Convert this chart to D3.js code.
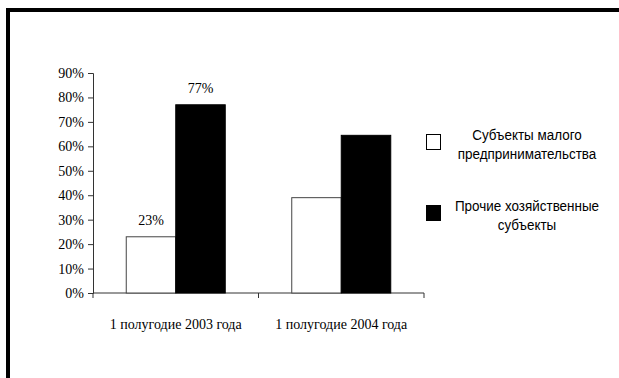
<!DOCTYPE html>
<html>
<head>
<meta charset="utf-8">
<script src="https://cdn.jsdelivr.net/npm/d3@7"></script>
<style>
  html, body { margin: 0; padding: 0; background: #fff; }
  svg { display: block; }
</style>
</head>
<body>
<svg id="chart" width="619" height="378"></svg>
<script>
// Data
const categories = ["1 полугодие 2003 года", "1 полугодие 2004 года"];
const seriesNames = [["Субъекты малого", "предпринимательства"], ["Прочие хозяйственные", "субъекты"]];
const smallBusiness = [23, 39];
const otherEntities = [77, 64.5];
const valueLabels = [["23%", null], ["77%", null]];
const yTicks = [0, 10, 20, 30, 40, 50, 60, 70, 80, 90];

const svg = d3.select("#chart");
const W = 619, H = 378;

// Frame
svg.append("path")
  .attr("d", `M8,${H + 5} L8,10 L${W + 5},10`)
  .attr("fill", "none")
  .attr("stroke", "#000")
  .attr("stroke-width", 4);

const plot = { left: 93, right: 424, top: 73, bottom: 293 };

const x = d3.scaleBand().domain(categories).range([plot.left, plot.right]);
const series = [smallBusiness, otherEntities];
const fills = ["#fff", "#000"];
const y = d3.scaleLinear().domain([0, 90]).range([plot.bottom, plot.top]);
const barW = 49.5;

// Y axis
const yAxis = svg.append("g")
  .attr("transform", `translate(${plot.left},0)`)
  .call(d3.axisLeft(y).tickValues(yTicks).tickFormat(d => d + "%").tickSize(5).tickPadding(4));
yAxis.select(".domain").attr("stroke", "#333");
yAxis.selectAll(".tick line").attr("stroke", "#333");
yAxis.selectAll("text")
  .attr("font-family", "'Liberation Serif', 'Times New Roman', serif")
  .attr("font-size", 14)
  .attr("fill", "#000");

// X axis with ticks at category boundaries
const xAxisG = svg.append("g").attr("transform", `translate(0,${plot.bottom})`);
xAxisG.append("line")
  .attr("x1", plot.left).attr("x2", plot.right)
  .attr("stroke", "#333");
const boundaries = [plot.left].concat(categories.map(c => x(c) + x.bandwidth()));
xAxisG.selectAll("line.tk").data(boundaries).join("line")
  .attr("class", "tk")
  .attr("x1", d => d).attr("x2", d => d)
  .attr("y1", 0).attr("y2", 5)
  .attr("stroke", "#333");
xAxisG.selectAll("text").data(categories).join("text")
  .attr("x", d => x(d) + x.bandwidth() / 2)
  .attr("y", 36)
  .attr("text-anchor", "middle")
  .attr("font-family", "'Liberation Serif', 'Times New Roman', serif")
  .attr("font-size", 14)
  .text(d => d);

// Bars
series.forEach((vals, si) => {
  svg.append("g").selectAll("rect").data(vals).join("rect")
    .attr("x", (d, i) => x(categories[i]) + x.bandwidth() / 2 - barW + si * barW)
    .attr("y", d => y(d))
    .attr("width", barW)
    .attr("height", d => y(0) - y(d))
    .attr("fill", fills[si])
    .attr("stroke", si === 0 ? "#444" : "#000")
    .attr("stroke-width", 1);

  svg.append("g").selectAll("text")
    .data(vals.map((d, i) => ({ d, i, label: valueLabels[si][i] })).filter(o => o.label))
    .join("text")
    .attr("x", o => x(categories[o.i]) + x.bandwidth() / 2 - barW / 2 + si * barW)
    .attr("y", o => y(o.d) - 12)
    .attr("text-anchor", "middle")
    .attr("font-family", "'Liberation Serif', 'Times New Roman', serif")
    .attr("font-size", 14)
    .text(o => o.label);
});

// Legend
const legendY = [134, 205];
const legend = svg.append("g");
seriesNames.forEach((lines, si) => {
  legend.append("rect")
    .attr("x", 426.5).attr("y", legendY[si] + 0.5)
    .attr("width", 14).attr("height", 15)
    .attr("fill", fills[si])
    .attr("stroke", "#000").attr("stroke-width", 1);
  lines.forEach((t, li) => {
    legend.append("text")
      .attr("x", 527)
      .attr("y", legendY[si] + 6 + li * 19)
      .attr("text-anchor", "middle")
      .attr("font-family", "'Liberation Sans', Arial, sans-serif")
      .attr("font-size", 14)
      .attr("transform", `translate(527,0) scale(0.96,1) translate(-527,0)`)
      .text(t);
  });
});
</script>
</body>
</html>
